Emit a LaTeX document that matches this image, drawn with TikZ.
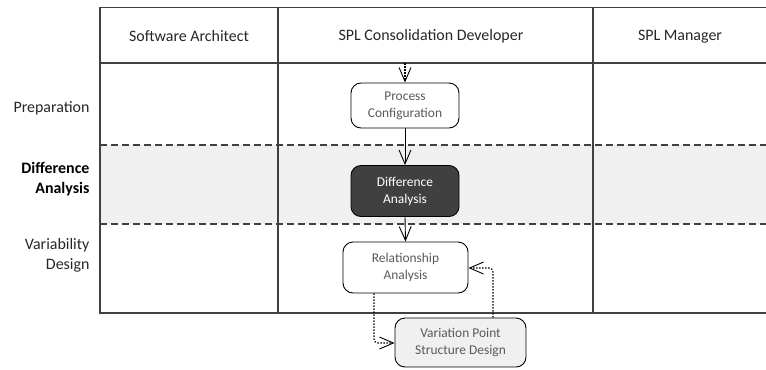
\documentclass[tikz,border=0pt]{standalone}
\usepackage{fontspec}
\setmainfont{Carlito}
\usetikzlibrary{arrows.meta}
\begin{document}
\begin{tikzpicture}[x=1bp,y=-1bp,
  grid/.style={draw=black!75,line width=1.3bp},
  sep/.style={draw=black!75,line width=1.1bp,dash pattern=on 7bp off 4bp},
  hdr/.style={font=\fontsize{16}{19}\selectfont,text=black!85},
  lane/.style={font=\fontsize{16}{20}\selectfont,text=black!85,align=right,anchor=east},
  act/.style={draw=black,line width=0.9bp,rounded corners=10bp,align=center,
    font=\fontsize{13.5}{17}\selectfont,text=black!65,inner sep=0pt},
  flow/.style={draw=black,line width=0.9bp,-{Straight Barb[length=14bp,width=12bp,line width=0.9bp]}},
  dflow/.style={draw=black,line width=1.1bp,dash pattern=on 1.5bp off 1.5bp,-{Straight Barb[length=14bp,width=12bp,line width=0.9bp,sharp]}}
]
\useasboundingbox (0,0) rectangle (766,369);
% gray band
\fill[black!6] (100,145) rectangle (766,224);
% table
\draw[grid] (766,7.5) -- (100,7.5) -- (100,313) -- (766,313);
\draw[grid] (100,63) -- (766,63);
\draw[grid] (278,7.5) -- (278,313);
\draw[grid] (593,7.5) -- (593,313);
\draw[sep] (100,145) -- (766,145);
\draw[sep] (100,224) -- (766,224);
% headers
\node[hdr] (h1) at (189,36.5) {Software Architect};
\node[hdr] (h2) at (431,36.5) {SPL Consolidation Developer};
\node[hdr] (h3) at (680,36.5) {SPL Manager};
% lanes
\node[lane] (l1) at (93,108) {Preparation};
\node[lane,font=\fontsize{16}{20}\selectfont\bfseries,text=black] (l2) at (93,179) {Difference\\Analysis};
\node[lane] (l3) at (93,255) {Variability\\Design};
% activities
\coordinate (start) at (405,63);
\node[act,minimum width=108bp,minimum height=45bp] (pc) at (405,105.5) {Process\\Configuration};
\node[act,fill=black!75,text=white,minimum width=108bp,minimum height=51bp] (da) at (405,191) {Difference\\Analysis};
\node[act,minimum width=125bp,minimum height=51bp] (ra) at (405.5,267.5) {Relationship\\Analysis};
\node[act,fill=black!6,minimum width=131bp,minimum height=49bp] (vp) at (460.5,342.5) {Variation Point\\Structure Design};
% connectors
\draw[dflow] (start) -- (pc.north);
\draw[flow] (pc.south) -- (da.north);
\draw[flow] (da.south) -- (ra.north);
\draw[dflow,rounded corners=4bp] (ra.south -| 374,0) -- (374,343) -- (vp.west |- 0,343);
\draw[dflow,rounded corners=4bp] (vp.north -| 493,0) -- (493,268) -- (ra.east |- 0,268);
\end{tikzpicture}
\end{document}
